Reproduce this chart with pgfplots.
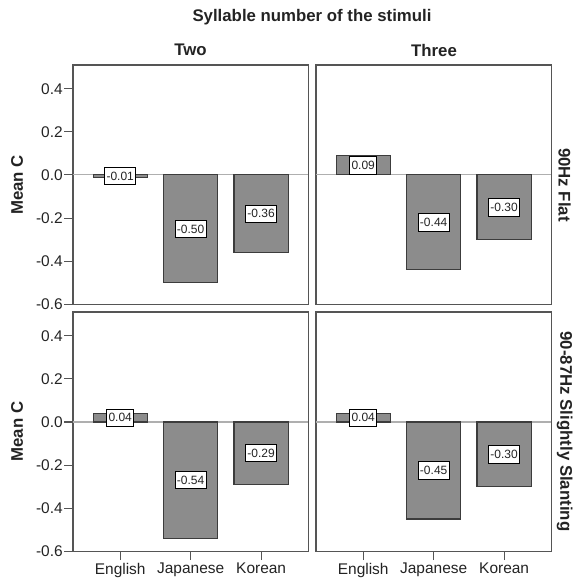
\documentclass[border=0pt]{standalone}
\usepackage{pgfplots}
\pgfplotsset{compat=1.18}
\usepackage{fontspec}
\setmainfont{Liberation Sans}
\definecolor{barfill}{RGB}{140,140,140}
\definecolor{bardraw}{RGB}{60,60,60}
\definecolor{framec}{RGB}{85,85,85}
\definecolor{zeroline}{RGB}{175,175,175}
\definecolor{txt}{RGB}{35,35,35}

\pgfplotsset{
  panel/.style={
    scale only axis, width=176.5pt, height=179.5pt,
    anchor=north west,
    xmin=-0.67, xmax=2.67, ymin=-0.6, ymax=0.51,
    axis line style={framec, line width=0.9pt},
    tick style={framec, line width=0.8pt},
    major tick length=6.5pt,
    tick align=outside,
    ytick={-0.6,-0.4,-0.2,0,0.2,0.4},
    yticklabels={-0.6,-0.4,-0.2,0.0,0.2,0.4},
    xtick={0,1,2},
    xticklabels={English,Japanese,Korean},
    ytick pos=left, xtick pos=bottom,
    tick label style={font=\fontsize{11.6}{13}\selectfont, text=txt},
    yticklabel style={inner sep=1pt},
    xticklabel style={inner sep=2pt},
    clip=false,
  },
  notop/.style={xtick=\empty},
  noleft/.style={ytick=\empty},
  bars/.style={ybar, bar width=0.77, fill=barfill, draw=bardraw, line width=0.8pt},
  vlabels/.style={draw=none, nodes near coords, point meta=explicit symbolic,
    every node near coord/.append style={anchor=center, draw=black, fill=white,
      text=txt, font=\fontsize{9}{10}\selectfont, inner xsep=1.3pt, inner ysep=3.3pt,
      line width=0.6pt}},
  zl/.style={zeroline, line width=0.8pt},
}

\begin{document}
\begin{tikzpicture}
\path (0,0) rectangle (429.75pt,-435.75pt);

% top-left
\begin{axis}[panel, notop, at={(54.75pt,-48.75pt)}]
\addplot[zl] coordinates {(-0.67,0) (2.67,0)};
\addplot[bars] coordinates {(0,-0.01) (1,-0.50) (2,-0.36)};
\addplot[vlabels] coordinates {(0,-0.005) [-0.01] (1,-0.25) [-0.50] (2,-0.18) [-0.36]};
\end{axis}

% top-right
\begin{axis}[panel, notop, noleft, at={(237pt,-48.75pt)}]
\addplot[zl] coordinates {(-0.67,0) (2.67,0)};
\addplot[bars] coordinates {(0,0.09) (1,-0.44) (2,-0.30)};
\addplot[vlabels] coordinates {(0,0.045) [0.09] (1,-0.22) [-0.44] (2,-0.15) [-0.30]};
\end{axis}

% bottom-left
\begin{axis}[panel, at={(54.75pt,-234pt)}]
\addplot[zl] coordinates {(-0.67,0) (2.67,0)};
\addplot[bars] coordinates {(0,0.04) (1,-0.54) (2,-0.29)};
\addplot[vlabels] coordinates {(0,0.02) [0.04] (1,-0.27) [-0.54] (2,-0.145) [-0.29]};
\end{axis}

% bottom-right
\begin{axis}[panel, noleft, at={(237pt,-234pt)}]
\addplot[zl] coordinates {(-0.67,0) (2.67,0)};
\addplot[bars] coordinates {(0,0.04) (1,-0.45) (2,-0.30)};
\addplot[vlabels] coordinates {(0,0.02) [0.04] (1,-0.225) [-0.45] (2,-0.15) [-0.30]};
\end{axis}

\begin{scope}[every node/.style={text=txt, font=\bfseries\fontsize{12.6}{14}\selectfont, inner sep=0pt}]
\node at (234pt,-12.75pt) {Syllable number of the stimuli};
\node at (142.9pt,-37.5pt) {Two};
\node at (325.5pt,-37.5pt) {Three};
\node[rotate=-90] at (423.5pt,-138.75pt) {90Hz Flat};
\node[rotate=-90] at (423.5pt,-323.6pt) {90-87Hz Slightly Slanting};
\node[rotate=90] at (12.75pt,-138.75pt) {Mean C};
\node[rotate=90] at (12.75pt,-323.6pt) {Mean C};
\end{scope}
\end{tikzpicture}
\end{document}
